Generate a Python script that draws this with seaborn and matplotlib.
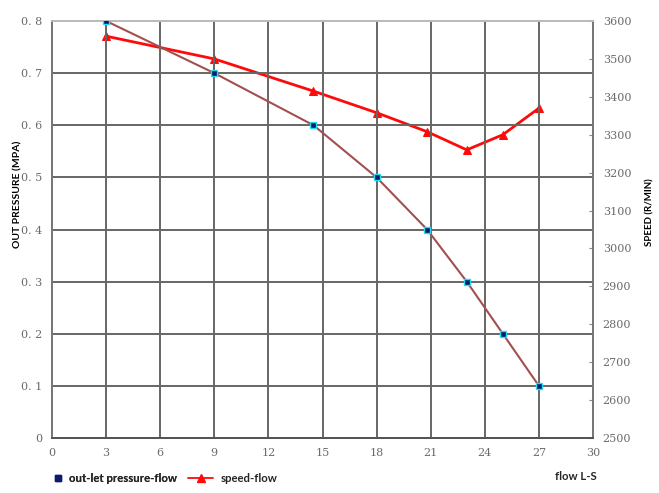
import matplotlib
matplotlib.use("Agg")
import matplotlib.pyplot as plt
import seaborn as sns
import pandas as pd
from matplotlib.lines import Line2D

# data
flow_pressure = [3, 9, 14.5, 18, 20.8, 23, 25, 27]
pressure = [0.8, 0.7, 0.6, 0.5, 0.4, 0.3, 0.2, 0.1]
flow_speed = [3, 9, 14.5, 18, 20.8, 23, 25, 27]
speed = [3560, 3500, 3415, 3358, 3308, 3260, 3300, 3370]
x_ticks = [0, 3, 6, 9, 12, 15, 18, 21, 24, 27, 30]
y_ticks = [0, 0.1, 0.2, 0.3, 0.4, 0.5, 0.6, 0.7, 0.8]
y_labels = ["0", "0. 1", "0. 2", "0. 3", "0. 4", "0. 5", "0. 6", "0. 7", "0. 8"]
speed_ticks = [2500, 2600, 2700, 2800, 2900, 3000, 3100, 3200, 3300, 3400, 3500, 3600]

sns.set_style("white")
plt.rcParams['font.family'] = ['Lato', 'DejaVu Sans']

df_p = pd.DataFrame({"flow": flow_pressure, "pressure": pressure})
df_s = pd.DataFrame({"flow": flow_speed, "speed": speed})

W, H = 659, 493
fig = plt.figure(figsize=(W/100, H/100), dpi=100)
ax = fig.add_axes([52/W, 55/H, (593-52)/W, (438-21)/H])
ax2 = ax.twinx()

ax.set_xlim(0, 30)
ax.set_ylim(0, 0.8)
ax2.set_ylim(2500, 3600)

grid_c = "#666666"
for xv in x_ticks[1:-1]:
    ax.axvline(xv, color=grid_c, lw=1.4, zorder=0)
for yv in y_ticks[1:-1]:
    ax.axhline(yv, color=grid_c, lw=1.4, zorder=0)

sns.lineplot(data=df_p, x="flow", y="pressure", ax=ax, color="#a2504f", lw=1.5,
             marker="s", markersize=5, markerfacecolor="#0a1a6e",
             markeredgecolor="#22ddee", markeredgewidth=1.0, zorder=3)
sns.lineplot(data=df_s, x="flow", y="speed", ax=ax2, color="#ff0a0a", lw=2.0,
             marker="^", markersize=6, markerfacecolor="#ff0a0a",
             markeredgecolor="#ff0a0a", zorder=3)

tick_c = "#6a6a6a"
tick_font = dict(color=tick_c, fontsize=8, family="DejaVu Serif")
ax.set_xticks(x_ticks)
ax.set_xticklabels([str(t) for t in x_ticks], **tick_font)
ax.set_yticks(y_ticks)
ax.set_yticklabels(y_labels, **tick_font)
ax2.set_yticks(speed_ticks)
ax2.set_yticklabels([str(t) for t in speed_ticks], **tick_font)
ax.tick_params(axis="x", length=0, pad=7)
ax.tick_params(axis="y", length=0, pad=7)
ax2.tick_params(axis="y", direction="in", length=3, color="#888888", pad=7)

ax.set_xlabel("")
ax.set_ylabel("OUT PRESSURE (MPA)", fontsize=7.5, fontweight="bold", color="black")
ax.yaxis.set_label_coords((22-52)/541, (438-194)/417)
ax2.set_ylabel("SPEED (R/MIN)", fontsize=7, fontweight="bold", color="black")
ax2.yaxis.set_label_coords((645-52)/541, (438-212)/417)

for a in (ax, ax2):
    a.spines["top"].set_color("#bbbbbb")
    a.spines["bottom"].set_color("#555555")
    a.spines["left"].set_color("#777777")
    a.spines["right"].set_color("#777777")
    for s in a.spines.values():
        s.set_linewidth(1.4)
ax.set_zorder(ax2.get_zorder() + 1)
ax.patch.set_visible(False)

fs = 8.2
em = fs * 100 / 72
h1 = Line2D([], [], ls="none", marker="s", markersize=5, markerfacecolor="#0a1a6e",
            markeredgecolor="#0a1a6e")
h2 = Line2D([], [], color="#ff0a0a", lw=1.3, marker="^", markersize=6)
leg1 = fig.legend([h1], ["out-let pressure-flow"], loc="center left",
                  bbox_to_anchor=(53/W, 1 - 478/H), frameon=False,
                  prop={"size": fs, "weight": "bold", "family": "Lato"},
                  handlelength=10/em, handletextpad=6/em, borderpad=0, borderaxespad=0)
fig.add_artist(leg1)
fig.legend([h2], ["speed-flow"], loc="center left",
           bbox_to_anchor=(188/W, 1 - 478/H), frameon=False,
           prop={"size": fs, "weight": "bold", "family": "Lato"},
           handlelength=25/em, handletextpad=8/em, borderpad=0, borderaxespad=0)
fig.text(555/W, 1 - 477/H, "flow L-S", fontsize=fs, fontweight="bold", va="center", ha="left")

fig.savefig("out.png", dpi=100)
